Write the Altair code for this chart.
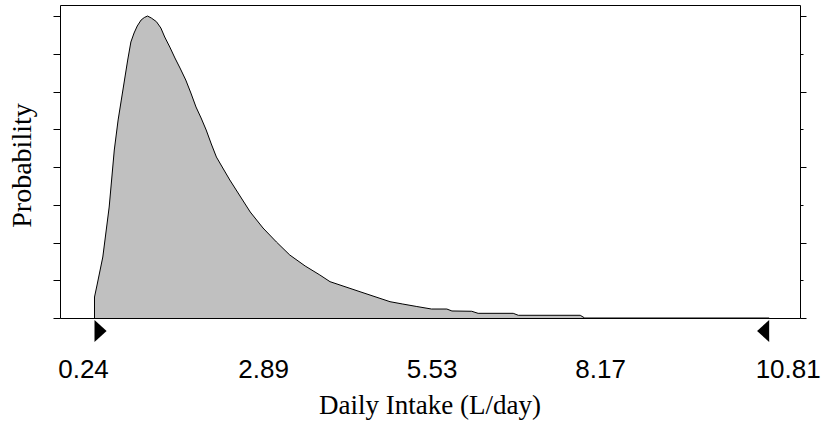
import altair as alt
import pandas as pd

# Daily intake (L/day) and probability
intake = [0.24, 0.24, 0.28, 0.37, 0.47, 0.55, 0.61, 0.66, 0.76, 0.81, 0.86, 0.91,
          0.97, 1.02, 1.07, 1.13, 1.21, 1.28, 1.34, 1.42, 1.50, 1.58, 1.67, 1.75,
          1.83, 1.91, 1.99, 2.07, 2.15, 2.25, 2.36, 2.52, 2.68, 2.88, 3.09, 3.30,
          3.54, 3.77, 3.93, 4.40, 4.87, 5.07, 5.29, 5.52, 5.76, 5.84, 6.15, 6.25,
          6.80, 6.88, 7.85, 7.92, 10.81]
prob = [0.0, 0.00278, 0.00437, 0.00808, 0.01470, 0.02225, 0.02623, 0.02887,
        0.03417, 0.03656, 0.03775, 0.03868, 0.03947, 0.03980, 0.04000, 0.03974,
        0.03925, 0.03841, 0.03722, 0.03589, 0.03444, 0.03311, 0.03152, 0.02980,
        0.02795, 0.02649, 0.02490, 0.02305, 0.02132, 0.01987, 0.01828, 0.01616,
        0.01404, 0.01192, 0.01007, 0.00834, 0.00689, 0.00570, 0.00481, 0.00348,
        0.00216, 0.00185, 0.00152, 0.00119, 0.00119, 0.00093, 0.00089, 0.00062,
        0.00062, 0.00036, 0.00036, 0.0, 0.0]

x_ticks = [0.24, 1.56, 2.89, 4.21, 5.53, 6.85, 8.17, 9.49, 10.81]
mid_labels = [2.89, 5.53, 8.17]
mid_label_text = ["2.89", "5.53", "8.17"]
left_label = [0.24]
left_label_text = ["0.24"]
right_label = [10.81]
right_label_text = ["10.81"]
y_ticks = [0.0, 0.005, 0.01, 0.015, 0.02, 0.025, 0.03, 0.035, 0.04]
marker_left = [0.24]
marker_right = [10.81]
x_title = ["Daily Intake (L/day)"]

df = pd.DataFrame({"x": intake, "p": prob})

xscale = alt.Scale(domain=[-0.3005, 11.293], nice=False, zero=False)
yscale = alt.Scale(domain=[0, 0.04146], nice=False, zero=True)

major_x = "indexof([0.24, 2.89, 5.53, 8.17, 10.81], datum.value) >= 0"
major_y = "abs(datum.value*100 - round(datum.value*100)) < 0.001"

area = alt.Chart(df).mark_area(
    color="#c0c0c0", opacity=1, fillOpacity=1,
    line={"color": "black", "strokeWidth": 1}
).encode(
    x=alt.X("x:Q", scale=xscale, axis=alt.Axis(
        values=x_ticks, labels=False, domain=False, grid=False,
        tickColor="black", tickWidth=1,
        tickSize={"condition": {"test": major_x, "value": 5}, "value": 3},
        title=None)),
    y=alt.Y("p:Q", scale=yscale, axis=alt.Axis(
        values=y_ticks, labels=False, domain=False, grid=False,
        tickColor="black", tickSize=7, tickWidth=1, orient="left",
        title="Probability", titleFont="Liberation Serif", titleFontSize=28,
        titleFontWeight="normal", titleColor="black", titleAngle=270,
        titleX=-30, titleY=160, titleBaseline="alphabetic", titleAlign="center")),
)

right = alt.Chart(df).mark_line(opacity=0).encode(
    x=alt.X("x:Q", scale=xscale, axis=None),
    y=alt.Y("p:Q", scale=yscale, axis=alt.Axis(
        orient="right", values=y_ticks, labels=False, domain=False, grid=False,
        tickColor="black", tickWidth=1,
        tickSize={"condition": {"test": major_y, "value": 6}, "value": 3},
        title=None)),
)

tri_l = alt.Chart(pd.DataFrame({"m": marker_left})).mark_point(
    shape="M0,-1L1.1,0L0,1Z", size=484, filled=True, color="black", opacity=1
).encode(x=alt.X("m:Q", scale=xscale, axis=None), y=alt.value(326))

tri_r = alt.Chart(pd.DataFrame({"m": marker_right})).mark_point(
    shape="M0,-1L-1.1,0L0,1Z", size=484, filled=True, color="black", opacity=1
).encode(x=alt.X("m:Q", scale=xscale, axis=None), y=alt.value(326))


def label_layer(values, texts, dx):
    return alt.Chart(pd.DataFrame({"v": values, "t": texts})).mark_text(
        font="Liberation Sans", fontSize=26, color="black", baseline="alphabetic",
        align="center", dx=dx
    ).encode(
        x=alt.X("v:Q", scale=xscale, axis=None),
        y=alt.value(372.7),
        text="t:N",
    )


lab_mid = label_layer(mid_labels, mid_label_text, 0)
lab_left = label_layer(left_label, left_label_text, -11)
lab_right = label_layer(right_label, right_label_text, 19)

title_x = alt.Chart(pd.DataFrame({"t": x_title})).mark_text(
    font="Liberation Serif", fontSize=27, color="black", baseline="alphabetic",
    align="center"
).encode(x=alt.value(370), y=alt.value(409), text="t:N")

chart = alt.layer(
    area, right, tri_l, tri_r, lab_mid, lab_left, lab_right, title_x
).resolve_axis(y="independent").properties(
    width=740, height=313,
    autosize=alt.AutoSizeParams(type="none"),
    padding={"left": 60, "top": 5, "right": 23, "bottom": 111},
    background="white",
).configure_view(stroke="black", strokeWidth=1)

chart.save("out.html", embed_options={"renderer": "svg", "actions": False})
